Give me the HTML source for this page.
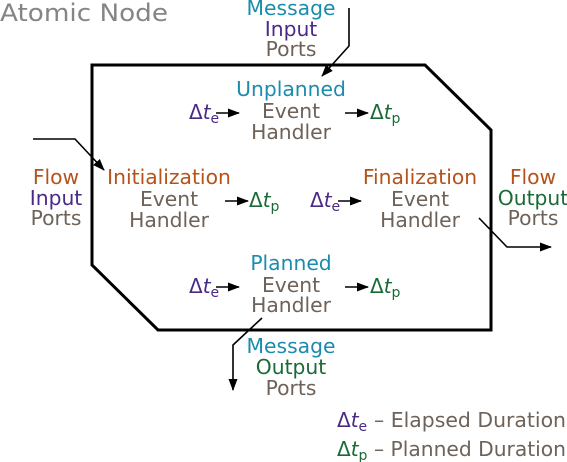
<!DOCTYPE html>
<html><head><meta charset="utf-8"><style>
html,body{margin:0;padding:0;background:#fff;}
svg{display:block;font-family:"DejaVu Sans","Liberation Sans",sans-serif;}
.g{fill:#6e6259}.t{fill:#1a8cae}.p{fill:#4b2a87}.gr{fill:#1a6a38}.o{fill:#b5531a}
</style></head><body>
<svg width="567" height="462" viewBox="0 0 567 462" xmlns="http://www.w3.org/2000/svg">
<defs>
<marker id="a" markerWidth="12" markerHeight="9" refX="11" refY="4.5" orient="auto" markerUnits="userSpaceOnUse">
<path d="M0,0 L12,4.5 L0,9 Z" fill="#000"/></marker>
</defs>
<text x="0" y="21" font-size="24" fill="#858585" textLength="168" lengthAdjust="spacingAndGlyphs">Atomic Node</text>
<polygon points="92,65 425,65 491,130 491,330 158,330 92,265" fill="none" stroke="#000" stroke-width="3"/>
<g fill="none" stroke="#000" stroke-width="1.6">
<polyline points="349,8 349,46 322,76" marker-end="url(#a)"/>
<polyline points="33,139 75,139 104,170" marker-end="url(#a)"/>
<polyline points="479,218 507,247 551,247" marker-end="url(#a)"/>
<polyline points="262,318 233,345 233,390" marker-end="url(#a)"/>
<line x1="216" y1="113" x2="239" y2="113" marker-end="url(#a)"/>
<line x1="345" y1="113" x2="368" y2="113" marker-end="url(#a)"/>
<line x1="225" y1="201" x2="248" y2="201" marker-end="url(#a)"/>
<line x1="338" y1="201" x2="361" y2="201" marker-end="url(#a)"/>
<line x1="216" y1="287" x2="239" y2="287" marker-end="url(#a)"/>
<line x1="345" y1="287" x2="368" y2="287" marker-end="url(#a)"/>
</g>
<g font-size="20.3" text-anchor="middle">
<text x="291" y="15" class="t">Message</text><text x="291" y="36" class="p">Input</text><text x="291" y="56" class="g">Ports</text>
<text x="291" y="96" class="t">Unplanned</text><text x="291" y="118" class="g">Event</text><text x="291" y="139" class="g">Handler</text>
<text x="56" y="184" class="o">Flow</text><text x="56" y="205" class="p">Input</text><text x="56" y="225" class="g">Ports</text>
<text x="169" y="184" class="o">Initialization</text><text x="169" y="206" class="g">Event</text><text x="169" y="227" class="g">Handler</text>
<text x="420" y="184" class="o">Finalization</text><text x="420" y="206" class="g">Event</text><text x="420" y="227" class="g">Handler</text>
<text x="533" y="184" class="o">Flow</text><text x="533" y="205" class="gr">Output</text><text x="533" y="225" class="g">Ports</text>
<text x="291" y="270" class="t">Planned</text><text x="291" y="292" class="g">Event</text><text x="291" y="312" class="g">Handler</text>
<text x="291" y="353" class="t">Message</text><text x="291" y="374" class="gr">Output</text><text x="291" y="395" class="g">Ports</text>
</g>
<g font-size="20">
<text x="189" y="119" class="p">Δ<tspan font-style="italic">t</tspan><tspan font-size="14" dy="4">e</tspan></text>
<text x="370" y="119" class="gr">Δ<tspan font-style="italic">t</tspan><tspan font-size="14" dy="4">p</tspan></text>
<text x="249" y="207" class="gr">Δ<tspan font-style="italic">t</tspan><tspan font-size="14" dy="4">p</tspan></text>
<text x="310" y="207" class="p">Δ<tspan font-style="italic">t</tspan><tspan font-size="14" dy="4">e</tspan></text>
<text x="189" y="293" class="p">Δ<tspan font-style="italic">t</tspan><tspan font-size="14" dy="4">e</tspan></text>
<text x="370" y="293" class="gr">Δ<tspan font-style="italic">t</tspan><tspan font-size="14" dy="4">p</tspan></text>
<text x="337" y="427" class="p">Δ<tspan font-style="italic">t</tspan><tspan font-size="14" dy="4">e</tspan></text>
<text x="374" y="427" class="g" textLength="192" lengthAdjust="spacingAndGlyphs">– Elapsed Duration</text>
<text x="337" y="456" class="gr">Δ<tspan font-style="italic">t</tspan><tspan font-size="14" dy="4">p</tspan></text>
<text x="374" y="456" class="g" textLength="192" lengthAdjust="spacingAndGlyphs">– Planned Duration</text>
</g>
</svg>
</body></html>
